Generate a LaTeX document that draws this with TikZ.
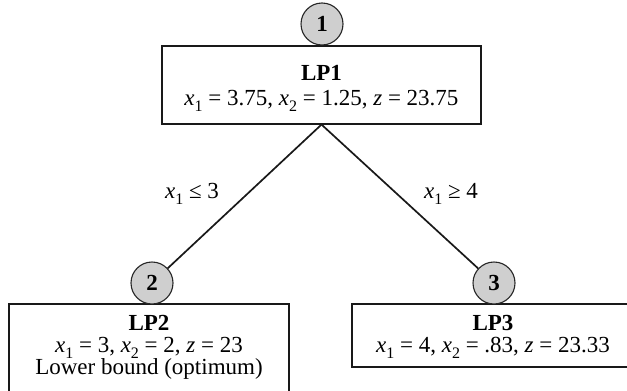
\documentclass[tikz,border=0pt]{standalone}
\usepackage{fontspec}
\setmainfont{Liberation Serif}
\newcommand{\xv}[1]{\textit{x}\raisebox{-0.3em}{\fontsize{16}{16}\selectfont #1}}
\begin{document}
\begin{tikzpicture}[x=1pt,y=-1pt]
\tikzset{
 lpbox/.style={draw=black!90, line width=1.1pt, fill=white, inner sep=0pt},
 lptext/.style={inner sep=0pt, anchor=base, font=\fontsize{23}{23}\selectfont},
 numcirc/.style={circle, draw=black!85, line width=1.1pt, fill=black!19, minimum size=42pt, inner sep=0pt, font=\fontsize{23}{23}\selectfont\bfseries},
 branch/.style={line width=1.7pt, black!90},
 cond/.style={inner sep=0pt, anchor=base, font=\fontsize{23}{23}\selectfont}
}
\useasboundingbox (0,0) rectangle (627,391);
\clip (0,0) rectangle (627,391);
\fill[white] (0,0) rectangle (627,391);
% boxes
\node[lpbox, minimum width=319pt, minimum height=78pt] (b1) at (321.5,85) {};
\node[lpbox, minimum width=280pt, minimum height=100pt] (b2) at (149,354) {};
\node[lpbox, minimum width=282pt, minimum height=63pt] (b3) at (493,335.5) {};
% circles and branches
\node[numcirc] (c1) at (322,24) {1};
\node[numcirc] (c2) at (152,283) {2};
\node[numcirc] (c3) at (494,283) {3};
\draw[branch] (b1.south) -- (c2);
\draw[branch] (b1.south) -- (c3);
% texts
\node[lptext] (t1a) at (321.5,80) {\textbf{LP1}};
\node[lptext] (t1b) at (321.5,105) {\xv{1} = 3.75, \xv{2} = 1.25, \textit{z} = 23.75};
\node[lptext] (t2a) at (149,330) {\textbf{LP2}};
\node[lptext] (t2b) at (149,352) {\xv{1} = 3, \xv{2} = 2, \textit{z} = 23};
\node[lptext] (t2c) at (149,374) {Lower bound (optimum)};
\node[lptext] (t3a) at (493,330) {\textbf{LP3}};
\node[lptext] (t3b) at (493,352) {\xv{1} = 4, \xv{2} = .83, \textit{z} = 23.33};
% conditions
\node[cond] (l2) at (192,198) {\xv{1} ≤ 3};
\node[cond] (l3) at (451,198) {\xv{1} ≥ 4};
\end{tikzpicture}
\end{document}
